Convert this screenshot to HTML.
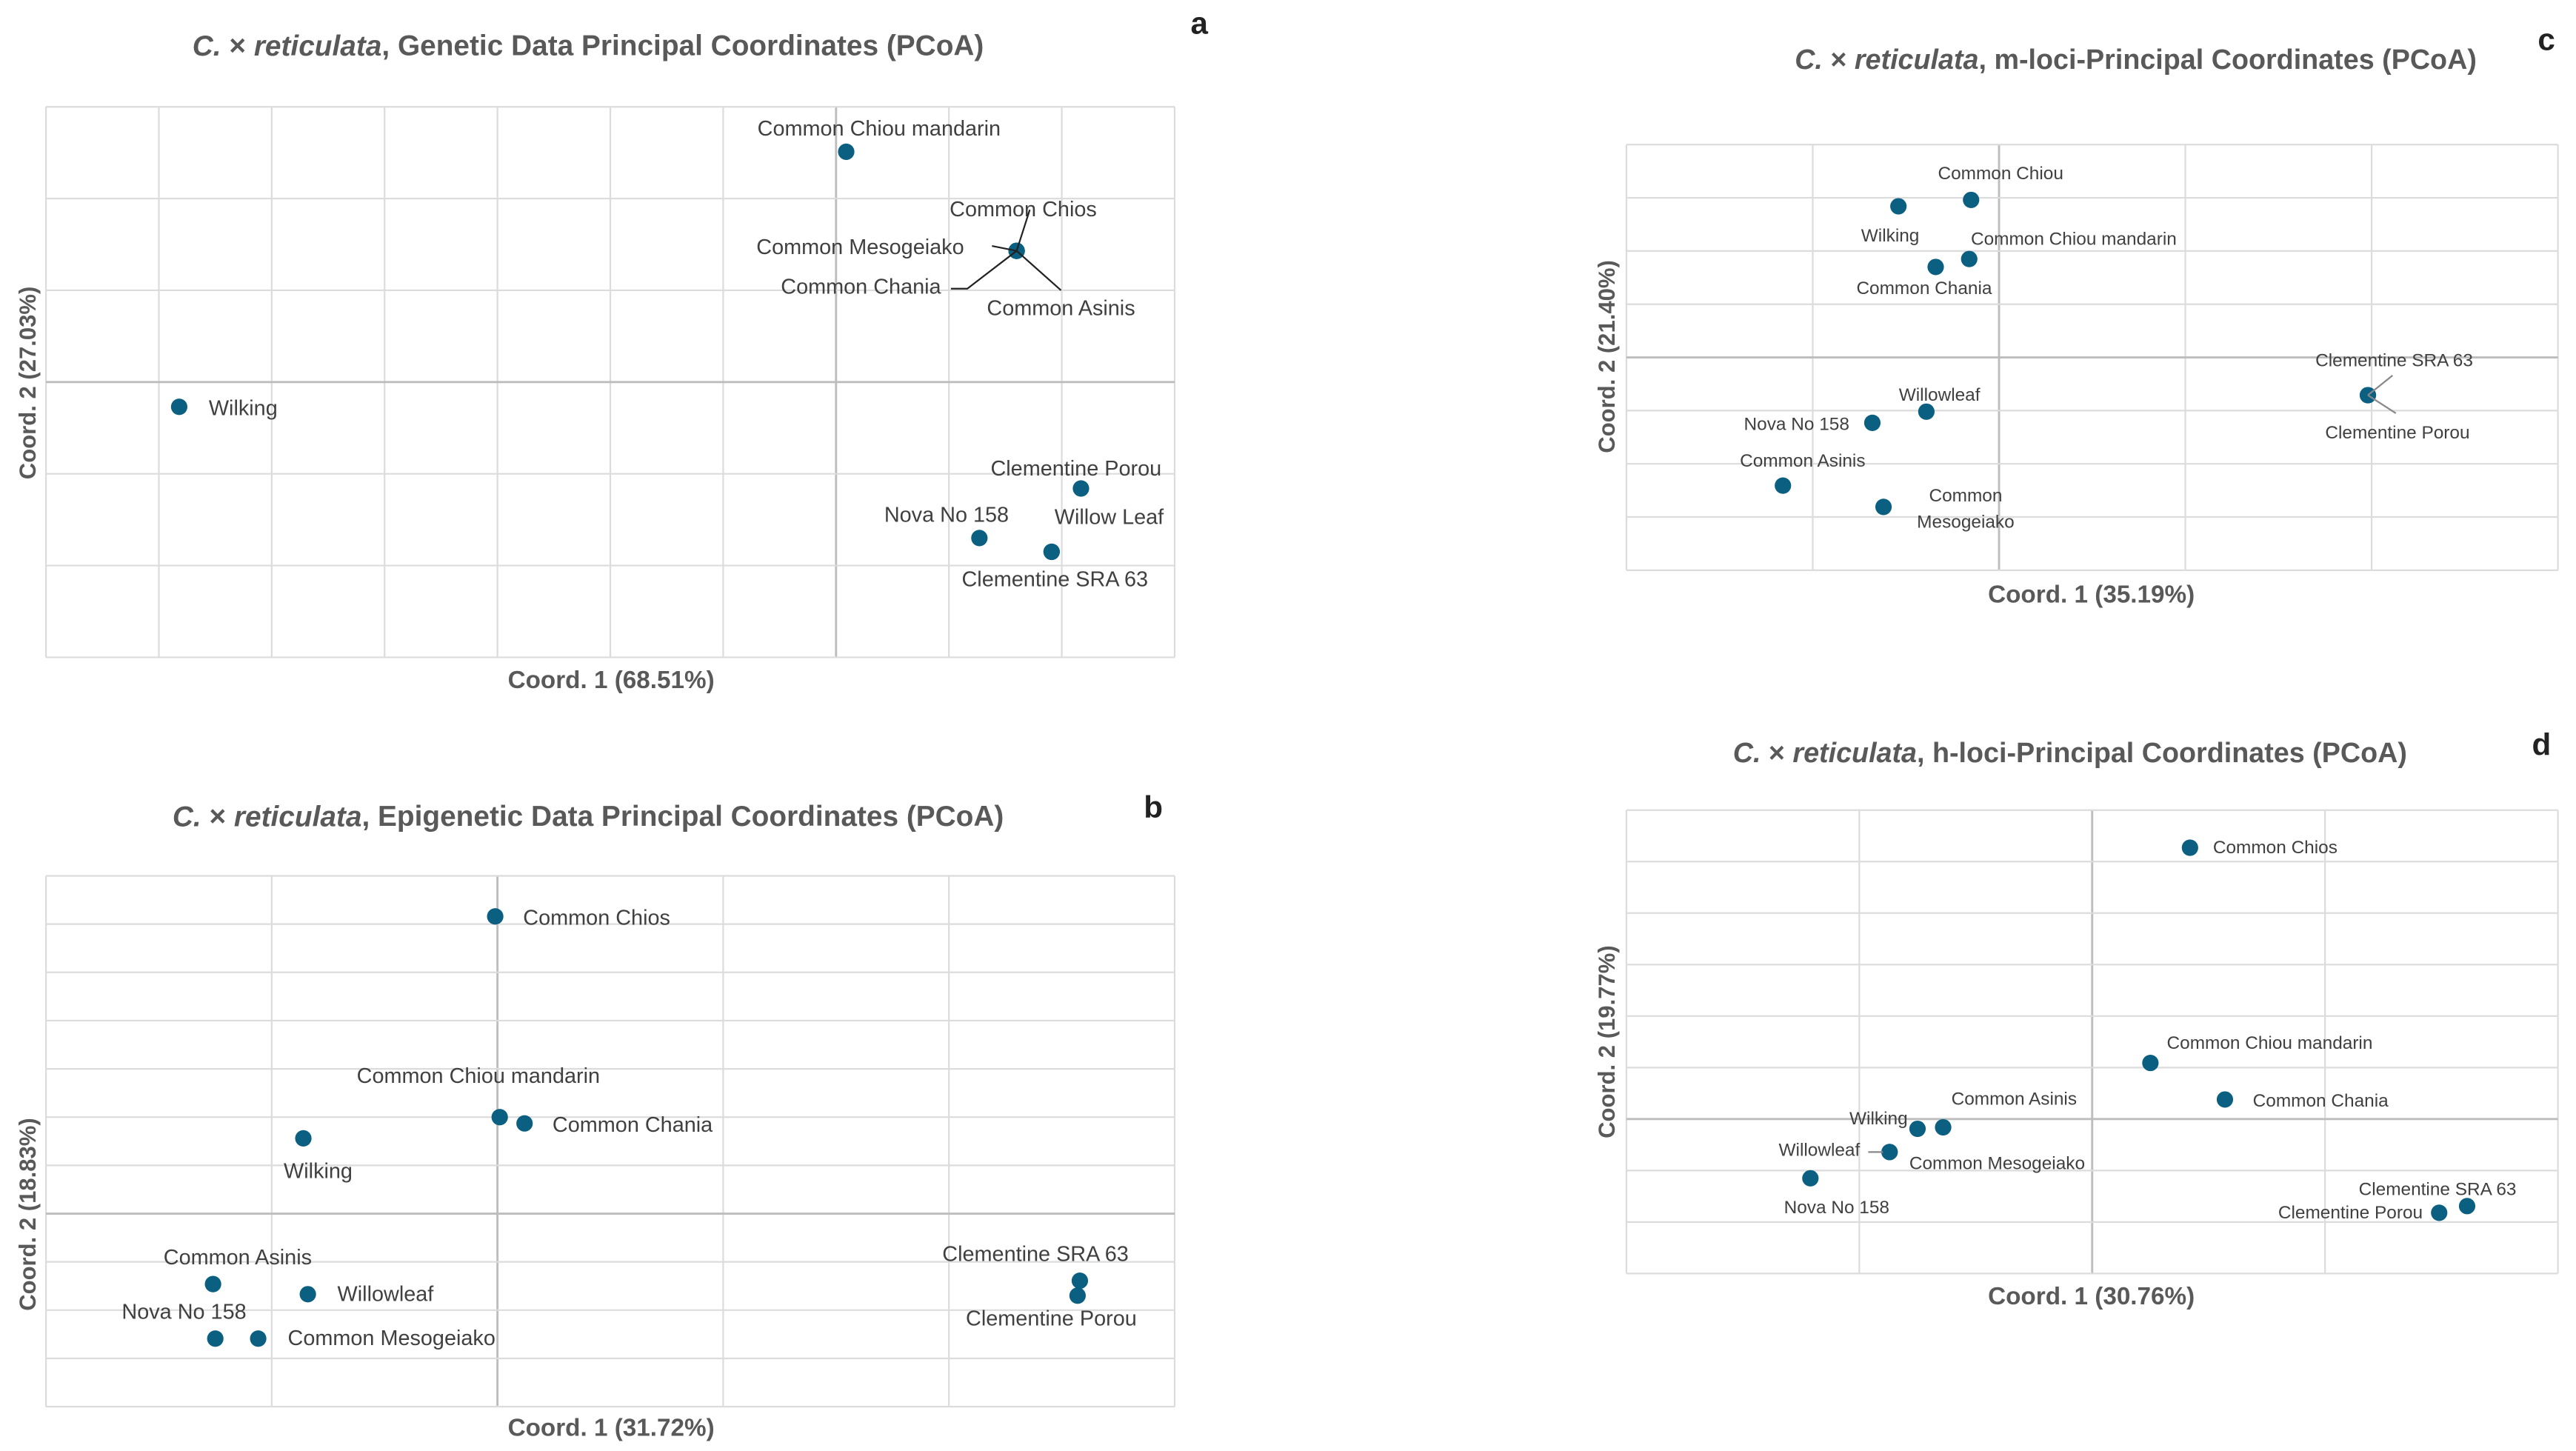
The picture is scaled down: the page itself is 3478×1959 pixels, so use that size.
<!DOCTYPE html>
<html><head><meta charset="utf-8"><style>
html,body{margin:0;padding:0;background:#fff;}
svg{display:block;}
text{font-family:"Liberation Sans Narrow","Liberation Sans",sans-serif;}
</style></head><body>
<svg id="fig" width="3478" height="1959" viewBox="0 0 1568 883" preserveAspectRatio="none" xmlns="http://www.w3.org/2000/svg"></svg>
<script>
// ---- Panel a data ----
const aNames = ["Common Chiou mandarin","Common Chios","Common Mesogeiako","Common Chania","Common Asinis","Wilking","Clementine Porou","Nova No 158","Clementine SRA 63","Willow Leaf"];
const aX = [0.09,1.6,1.6,1.6,1.6,-5.82,2.17,1.27,1.91,1.91];
const aY = [2.51,1.43,1.43,1.43,1.43,-0.27,-1.16,-1.70,-1.85,-1.85];
// ---- Panel b data ----
const bNames = ["Common Chios","Common Chiou mandarin","Common Chania","Wilking","Common Asinis","Willowleaf","Nova No 158","Common Mesogeiako","Clementine SRA 63","Clementine Porou"];
const bX = [-0.01,0.01,0.12,-0.86,-1.26,-0.84,-1.25,-1.06,2.58,2.57];
const bY = [6.16,2.0,1.87,1.56,-1.46,-1.67,-2.59,-2.59,-1.39,-1.70];
// ---- Panel c data ----
const cNames = ["Common Chiou","Wilking","Common Chiou mandarin","Common Chania","Clementine SRA 63","Clementine Porou","Willowleaf","Nova No 158","Common Asinis","Common Mesogeiako"];
const cX = [-0.15,-0.54,-0.16,-0.34,1.98,1.98,-0.39,-0.68,-1.16,-0.62];
const cY = [2.96,2.84,1.85,1.70,-0.71,-0.71,-1.02,-1.23,-2.41,-2.81];
// ---- Panel d data ----
const dNames = ["Common Chios","Common Chiou mandarin","Common Chania","Wilking","Common Asinis","Willowleaf","Common Mesogeiako","Nova No 158","Clementine SRA 63","Clementine Porou"];
const dX = [0.42,0.25,0.57,-0.75,-0.64,-0.87,-0.87,-1.21,1.61,1.49];
const dY = [5.27,1.09,0.38,-0.19,-0.16,-0.64,-0.64,-1.15,-1.69,-1.82];

const NS="http://www.w3.org/2000/svg";
const svg=document.getElementById('fig');
function mk(tag,attrs,parent){const e=document.createElementNS(NS,tag);for(const k in attrs)e.setAttribute(k,attrs[k]);(parent||svg).appendChild(e);return e;}

const panels=[
 {id:'a',names:aNames,xs:aX,ys:aY,box:[28,65,715,400],xr:[-7,3],yr:[-3,3],
  title:'Genetic Data Principal Coordinates (PCoA)',tx:358,ty:28,tsz:17.5,letter:[730,14],
  xt:'Coord. 1 (68.51%)',xtx:372,xty:414,yt:'Coord. 2 (27.03%)',ytx:17,fs:13,
  lab:[[20,-14,'middle'],[4,-25,'middle'],[-32,-2,'end'],[-46,22,'end'],[27,35,'middle'],[18,1,'start'],[-3,-12,'middle'],[-20,-14,'middle'],[2,17,'middle'],[35,-21,'middle']],
  leaders:[[[0,0],[8,-25]],[[0,0],[-15,-3]],[[0,0],[-30,23],[-40,23]],[[0,0],[27,24]]]},
 {id:'b',names:bNames,xs:bX,ys:bY,box:[28,533,715,856],xr:[-2,3],yr:[-4,7],
  title:'Epigenetic Data Principal Coordinates (PCoA)',tx:358,ty:497,tsz:17.5,letter:[702,491],
  xt:'Coord. 1 (31.72%)',xtx:372,xty:869,yt:'Coord. 2 (18.83%)',ytx:17,fs:13,
  lab:[[17,1,'start'],[-13,-25,'middle'],[17,1,'start'],[9,20,'middle'],[15,-16,'middle'],[18,0,'start'],[-19,-16,'middle'],[18,0,'start'],[-27,-16,'middle'],[-16,14,'middle']],
  leaders:[]},
 {id:'c',names:cNames,xs:cX,ys:cY,box:[990,88,1557,347],xr:[-2,3],yr:[-4,4],
  title:'m-loci-Principal Coordinates (PCoA)',tx:1300,ty:36,tsz:17,letter:[1550,24],
  xt:'Coord. 1 (35.19%)',xtx:1273,xty:362,yt:'Coord. 2 (21.40%)',ytx:978,fs:11,
  lab:[[18,-16,'middle'],[-5,18,'middle'],[1,-12,'start'],[-7,13,'middle'],[16,-21,'middle'],[18,23,'middle'],[8,-10,'middle'],[-14,1,'end'],[12,-15,'middle'],[50,-7,'middle']],
  leaders:[[[0,0],[15,-12]],[[0,0],[17,11]]]},
 {id:'d',names:dNames,xs:dX,ys:dY,box:[990,493,1557,775],xr:[-2,2],yr:[-3,6],
  title:'h-loci-Principal Coordinates (PCoA)',tx:1260,ty:458,tsz:17,letter:[1547,453],
  xt:'Coord. 1 (30.76%)',xtx:1273,xty:789,yt:'Coord. 2 (19.77%)',ytx:978,fs:11,
  lab:[[14,0,'start'],[10,-12,'start'],[17,1,'start'],[-6,-6,'end'],[5,-17,'start'],[-18,-1,'end'],[12,7,'start'],[16,18,'middle'],[-18,-10,'middle'],[-10,0,'end']],
  leaders:[[[-4,0],[-13,0]]]}
];

panels.forEach(p=>{
 const g=mk('g',{});
 
 
 const [x0,y0,x1,y1]=p.box;
 const sx=v=>x0+(v-p.xr[0])/(p.xr[1]-p.xr[0])*(x1-x0);
 const sy=v=>y1-(v-p.yr[0])/(p.yr[1]-p.yr[0])*(y1-y0);
 const grid=mk('g',{},g);
 
 
 for(let v=p.xr[0];v<=p.xr[1];v++){mk('line',{x1:sx(v),x2:sx(v),y1:y0,y2:y1,stroke:v===0?'#bdbdbd':'#dcdcdc','stroke-width':v===0?1.3:1},grid);}
 for(let v=p.yr[0];v<=p.yr[1];v++){mk('line',{y1:sy(v),y2:sy(v),x1:x0,x2:x1,stroke:v===0?'#bdbdbd':'#dcdcdc','stroke-width':v===0?1.3:1},grid);}
 const t=mk('text',{x:p.tx,y:p.ty,'text-anchor':'middle','dominant-baseline':'central','font-size':p.tsz,'font-weight':'bold',fill:'#595959'},g);
 
 
 t.innerHTML='<tspan font-style="italic">C.</tspan> × <tspan font-style="italic">reticulata</tspan>, '+p.title;
 const L=mk('text',{x:p.letter[0],y:p.letter[1],'text-anchor':'middle','dominant-baseline':'central','font-size':19,'font-weight':'bold',fill:'#222','font-family':'Liberation Sans, sans-serif'},g);
 
 
 L.textContent=p.id;
 const xt=mk('text',{x:p.xtx,y:p.xty,'text-anchor':'middle','dominant-baseline':'central','font-size':15,'font-weight':'bold',fill:'#595959'},g);
 
 
 xt.textContent=p.xt;
 const yx=p.id==='d'?634:(p.id==='c'?217:(p.id==='b'?739:233));
 const yt=mk('text',{x:p.ytx,y:yx,'text-anchor':'middle','dominant-baseline':'central','font-size':14,'font-weight':'bold',fill:'#595959','font-family':'Liberation Sans, sans-serif',transform:'rotate(-90 '+p.ytx+' '+yx+')'},g);
 
 
 yt.textContent=p.yt;
 p.names.forEach((n,i)=>{
  const px=sx(p.xs[i]),py=sy(p.ys[i]);
  const c=mk('circle',{cx:px,cy:py,r:5,fill:'#0b5f80'},g);
  
  
  const o=p.lab[i];
  const tx=mk('text',{x:px+o[0],y:py+o[1],'text-anchor':o[2],'dominant-baseline':'central','font-size':p.fs,fill:'#404040'},g);
  
  
  if(p.id==='c'&&n==='Common Mesogeiako'){
   tx.innerHTML='<tspan x="'+(px+o[0])+'" dy="0">Common</tspan><tspan x="'+(px+o[0])+'" dy="16">Mesogeiako</tspan>';
  } else tx.textContent=n;
 });
 let ax,ay;
 if(p.id==='a'){ax=sx(aX[1]);ay=sy(aY[1]);}
 if(p.id==='c'){ax=sx(cX[4]);ay=sy(cY[4]);}
 if(p.id==='d'){ax=sx(dX[5]);ay=sy(dY[5]);}
 p.leaders.forEach(ld=>{
  const pts=ld.map(q=>(ax+q[0])+','+(ay+q[1])).join(' ');
  const pl=mk('polyline',{points:pts,fill:'none',stroke:p.id==='a'?'#222':'#888','stroke-width':1},g);
  
  
 });
});
</script>
</body></html>
